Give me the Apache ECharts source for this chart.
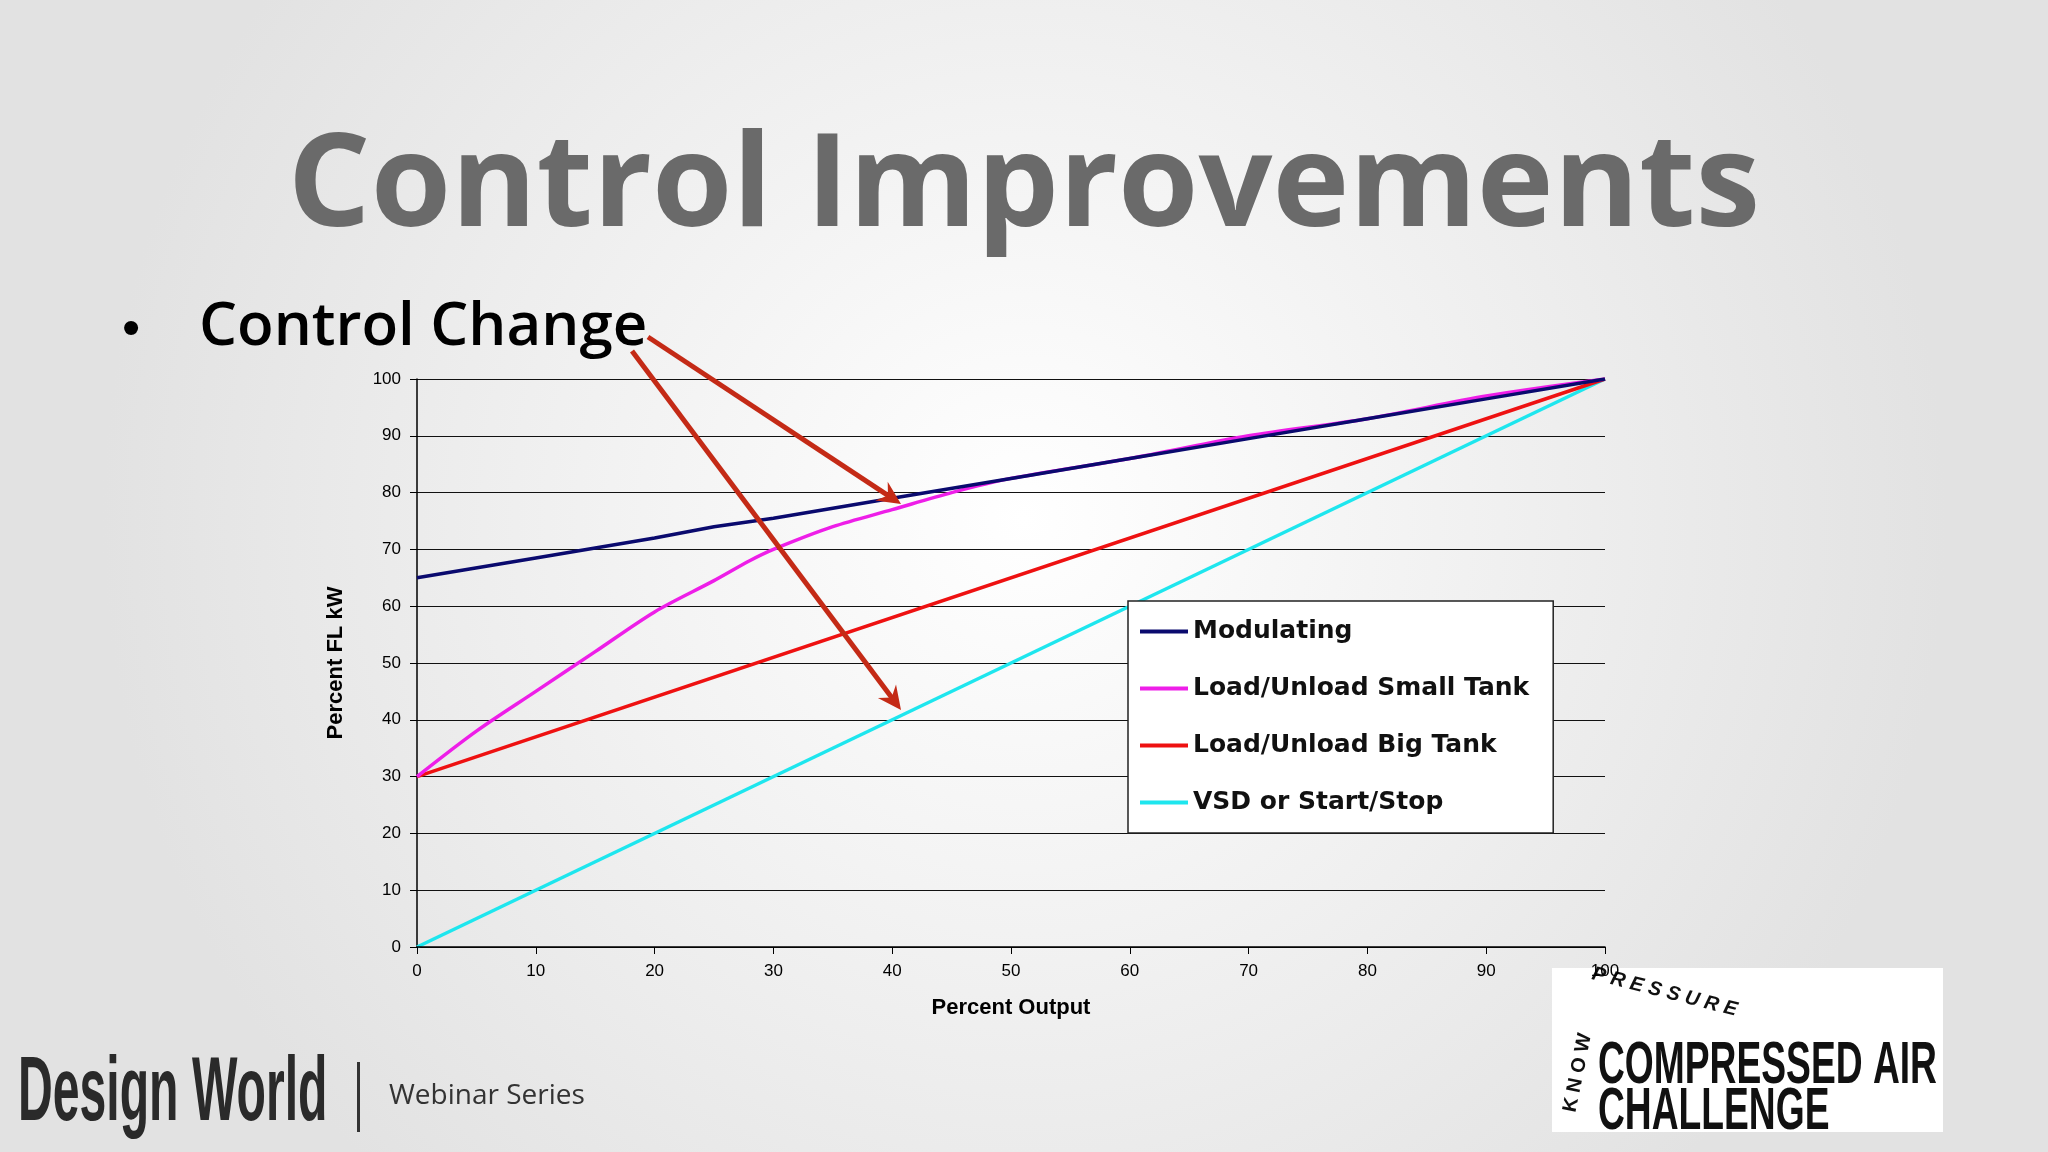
<!DOCTYPE html>
<html>
<head>
<meta charset="utf-8">
<script src="https://cdn.jsdelivr.net/npm/echarts@6/dist/echarts.min.js"></script>
<style>
html,body{margin:0;padding:0;width:2048px;height:1152px;overflow:hidden;}
#main{width:2048px;height:1152px;}
</style>
</head>
<body>
<div id="main"></div>
<script>
// data
var xTicks = [0, 10, 20, 30, 40, 50, 60, 70, 80, 90, 100];
var modulating = [[0, 65], [10, 68.5], [20, 72], [25, 74], [30, 75.5], [40, 79], [50, 82.5], [60, 86], [70, 89.5], [80, 93], [90, 96.5], [100, 100]];
var smallTank = [[0, 30], [5, 38], [10, 45], [15, 52], [20, 59], [25, 64.5], [28, 68], [30, 70], [35, 74], [40, 77], [45, 80], [50, 82.5], [60, 86], [70, 90], [80, 93], [90, 97], [100, 100]];
var bigTank = [[0, 30], [100, 100]];
var vsd = [[0, 0], [100, 100]];
var names = ['Modulating', 'Load/Unload Small Tank', 'Load/Unload Big Tank', 'VSD or Start/Stop'];
var colors = ['#0a0a6e', '#ee1ee8', '#ee1111', '#1ee6ee'];

var myChart = echarts.init(document.getElementById('main'));
var arrowRed = '#c42a16';

function arrow(x1, y1, x2, y2) {
    var a = Math.atan2(y2 - y1, x2 - x1), L = 26, w = 0.45;
    return [
        {type: 'line', shape: {x1: x1, y1: y1, x2: x2 - Math.cos(a) * 8, y2: y2 - Math.sin(a) * 8},
            style: {stroke: arrowRed, lineWidth: 5}, z: 20},
        {type: 'polygon', shape: {points: [[x2, y2],
            [x2 - L * Math.cos(a - w), y2 - L * Math.sin(a - w)],
            [x2 - L * 0.6 * Math.cos(a), y2 - L * 0.6 * Math.sin(a)],
            [x2 - L * Math.cos(a + w), y2 - L * Math.sin(a + w)]]},
            style: {fill: arrowRed}, z: 20}
    ];
}

// narrow logo text: squeeze a bold face horizontally
function narrow(txt, x, y, size, sx, fill) {
    return {type: 'text', x: x, y: y, scaleX: sx, z: 12,
        style: {text: txt, fontFamily: 'Liberation Sans', fontWeight: 'bold', fontSize: size,
            fill: fill, verticalAlign: 'top', align: 'left'}};
}

var series = [modulating, smallTank, bigTank, vsd].map(function (d, i) {
    return {
        name: names[i], type: 'line', data: d, symbol: 'none', smooth: i === 1 ? 0.3 : false,
        lineStyle: {color: colors[i], width: 3.5}, itemStyle: {color: colors[i]}, z: 5 - i
    };
});

var option = {
    backgroundColor: {
        type: 'radial', x: 0.5, y: 0.45, r: 0.8,
        colorStops: [{offset: 0, color: '#ffffff'}, {offset: 1, color: '#e2e2e2'}]
    },
    animation: false,
    grid: {left: 417, top: 379, width: 1188, height: 568},
    legend: {
        orient: 'vertical', left: 1128, top: 601,
        backgroundColor: '#ffffff', borderColor: '#222', borderWidth: 1.5,
        padding: [18, 24, 18, 12], itemGap: 32, itemWidth: 48, itemHeight: 4,
        icon: 'rect',
        textStyle: {fontFamily: 'DejaVu Sans', fontWeight: 'bold', fontSize: 25, color: '#111'},
        data: names
    },
    xAxis: {
        type: 'value', min: 0, max: 100, interval: 10, z: 30,
        name: 'Percent Output', nameLocation: 'middle', nameGap: 50,
        nameTextStyle: {fontFamily: 'Liberation Sans', fontWeight: 'bold', fontSize: 22, color: '#000'},
        axisLine: {lineStyle: {color: '#000', width: 1.5}},
        axisTick: {show: true, length: 7, lineStyle: {color: '#000'}},
        axisLabel: {fontFamily: 'Liberation Sans', fontSize: 17, color: '#000', margin: 16},
        splitLine: {show: false}
    },
    yAxis: {
        type: 'value', min: 0, max: 100, interval: 10,
        name: 'Percent FL kW', nameLocation: 'middle', nameGap: 70, nameRotate: 90,
        nameTextStyle: {fontFamily: 'Liberation Sans', fontWeight: 'bold', fontSize: 22, color: '#000'},
        axisLine: {show: true, lineStyle: {color: '#000', width: 1.5}},
        axisTick: {show: true, length: 7, lineStyle: {color: '#000'}},
        axisLabel: {fontFamily: 'Liberation Sans', fontSize: 17, color: '#000', margin: 16},
        splitLine: {lineStyle: {color: '#111', width: 1.2}}
    },
    series: series,
    graphic: [
        {type: 'text', left: 'center', top: 124, z: 10,
            style: {text: 'Control Improvements', fontFamily: 'Open Sans', fontWeight: 'bold', fontSize: 130,
                fill: '#6a6a6a', shadowColor: 'rgba(0,0,0,0.35)', shadowBlur: 8, shadowOffsetX: 3, shadowOffsetY: 4}},
        {type: 'text', left: 122, top: 305,
            style: {text: '•', fontFamily: 'Liberation Sans', fontSize: 52, fill: '#000'}},
        {type: 'text', left: 199, top: 298,
            style: {text: 'Control Change', fontFamily: 'Open Sans', fontWeight: 600, fontSize: 60, fill: '#000'}},
        narrow('Design World', 18, 1050, 90, 0.535, '#2a2a2a'),
        {type: 'rect', shape: {x: 357, y: 1062, width: 3, height: 70}, style: {fill: '#333'}},
        {type: 'text', left: 389, top: 1082,
            style: {text: 'Webinar Series', fontFamily: 'Open Sans', fontSize: 28, fill: '#333'}},
        {type: 'rect', shape: {x: 1552, y: 968, width: 391, height: 164}, style: {fill: '#ffffff'}, z: 0},
        {type: 'text', left: 1590, top: 964, rotation: -0.25, z: 12,
            style: {text: 'P R E S S U R E', fontFamily: 'Liberation Sans', fontWeight: 'bold', fontStyle: 'italic', fontSize: 20, fill: '#111'}},
        {type: 'text', x: 1560, y: 1110, rotation: Math.PI / 2 - 0.2, z: 12,
            style: {text: 'K N O W', fontFamily: 'Liberation Sans', fontWeight: 'bold', fontSize: 20, fill: '#111'}},
        narrow('COMPRESSED AIR', 1598, 1036, 60, 0.62, '#111'),
        narrow('CHALLENGE', 1598, 1082, 60, 0.62, '#111')
    ].concat(arrow(648, 337, 901, 504)).concat(arrow(632, 351, 901, 710))
};
myChart.setOption(option);
</script>
</body>
</html>
